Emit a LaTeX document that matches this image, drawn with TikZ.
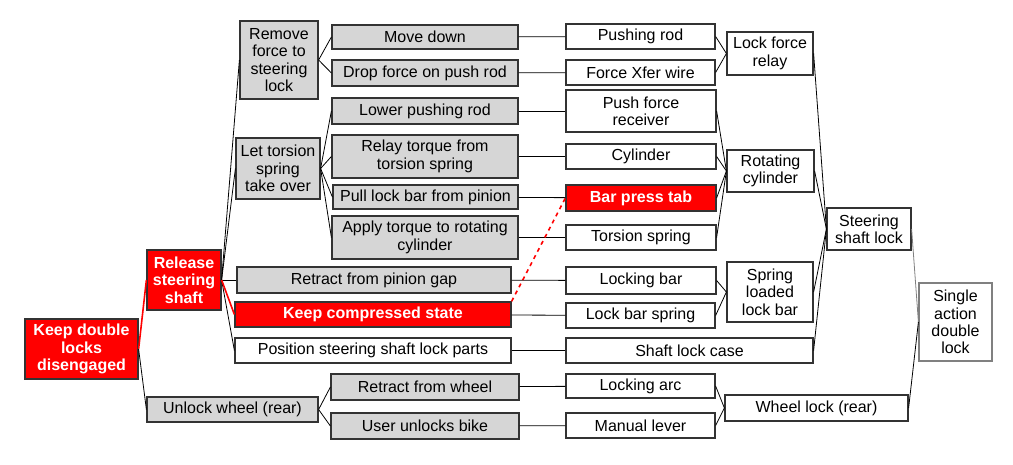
\documentclass[tikz,border=0pt]{standalone}
\usepackage{fontspec}
\setmainfont{Liberation Sans}
\begin{document}
\newcommand{\bx}[7]{%
  \pgfmathsetmacro{\mw}{(#4-#2)*0.75}\pgfmathsetmacro{\mh}{(#5-#3)*0.75}%
  \pgfmathsetmacro{\cx}{(#2+#4)/2}\pgfmathsetmacro{\cy}{(#3+#5)/2}%
  \node[#6, minimum width=\mw pt, minimum height=\mh pt] (#1) at (\cx,\cy) {#7};}
\begin{tikzpicture}[x=0.75pt,y=-0.75pt,
  base/.style={draw=black!80, line width=0.9pt, inner sep=0pt, align=center, font=\fontsize{12}{13}\selectfont},
  g/.style={base, fill=black!16},
  w/.style={base, fill=white},
  r/.style={base, fill=red, text=white, font=\fontsize{12}{13}\selectfont\bfseries},
  sw/.style={base, fill=white, draw=black!50},
  ln/.style={line width=0.6pt, black},
  rl/.style={line width=1.2pt, red},
  gl/.style={line width=0.6pt, black!50}]
\useasboundingbox (0,0) rectangle (1013,464);
\bx{K}{25}{319}{138}{379}{r}{Keep double\\locks\\disengaged}
\bx{R}{147}{250}{221}{310}{r}{Release\\steering\\shaft}
\bx{U}{147}{397}{318}{422}{g}{Unlock wheel (rear)}
\bx{RF}{240}{21}{318}{99}{g}{Remove\\force to\\steering\\lock}
\bx{LT}{236}{138}{320}{199}{g}{Let torsion\\spring\\take over}
\bx{MD}{332}{25}{518}{49}{g}{Move down}
\bx{DF}{332}{60}{518}{86}{g}{Drop force on push rod}
\bx{LP}{332}{98}{518}{124}{g}{Lower pushing rod}
\bx{RT}{332}{135}{518}{178}{g}{Relay torque from\\torsion spring}
\bx{PL}{333}{185}{518}{209}{g}{Pull lock bar from pinion}
\bx{AT}{332}{216}{518}{259}{g}{Apply torque to rotating\\cylinder}
\bx{RP}{237}{267}{511}{293}{g}{Retract from pinion gap}
\bx{KC}{235}{302}{511}{327}{r}{Keep compressed state}
\bx{PS}{235}{338}{511}{363}{w}{Position steering shaft lock parts}
\bx{RW}{331}{374}{519}{400}{g}{Retract from wheel}
\bx{UU}{331}{413}{519}{439}{g}{User unlocks bike}
\bx{PR}{566}{24}{715}{49}{w}{Pushing rod}
\bx{FX}{566}{60}{715}{85}{w}{Force Xfer wire}
\bx{PF}{566}{90}{716}{132}{w}{Push force\\receiver}
\bx{CY}{566}{144}{716}{169}{w}{Cylinder}
\bx{BP}{566}{185}{716}{211}{r}{Bar press tab}
\bx{TS}{566}{225}{716}{250}{w}{Torsion spring}
\bx{LB}{566}{267}{716}{294}{w}{Locking bar}
\bx{LS}{566}{303}{715}{328}{w}{Lock bar spring}
\bx{SC}{566}{338}{813}{363}{w}{Shaft lock case}
\bx{LA}{566}{374}{715}{398}{w}{Locking arc}
\bx{ML}{566}{413}{715}{438}{w}{Manual lever}
\bx{LF}{727}{32}{813}{75}{w}{Lock force\\relay}
\bx{RC}{727}{150}{814}{192}{w}{Rotating\\cylinder}
\bx{SL}{727}{262}{813}{322}{w}{Spring\\loaded\\lock bar}
\bx{SS}{827}{208}{911}{250}{w}{Steering\\shaft lock}
\bx{WL}{725}{395}{908}{421}{w}{Wheel lock (rear)}
\bx{SA}{919}{283}{992}{361}{sw}{Single\\action\\double\\lock}
% left tree
\draw[rl] (K.east) -- (R.west);
\draw[ln] (K.east) -- (U.west);
\foreach \c in {RF,LT,RP,PS} \draw[ln] (R.east) -- (\c.west);
\draw[rl] (R.east) -- (KC.west);
\foreach \c in {MD,DF} \draw[ln] (RF.east) -- (\c.west);
\foreach \c in {LP,RT,PL,AT} \draw[ln] (LT.east) -- (\c.west);
\foreach \c in {RW,UU} \draw[ln] (U.east) -- (\c.west);
% functions to components
\draw[ln] (MD) -- (PR); \draw[ln] (DF) -- (FX); \draw[ln] (LP) -- (PF);
\draw[ln] (RT) -- (CY); \draw[ln] (PL) -- (BP); \draw[ln] (AT) -- (TS);
\draw[ln] (RP) -- (LB); \draw[ln] (KC) -- (LS); \draw[ln] (PS) -- (SC);
\draw[ln] (RW) -- (LA); \draw[ln] (UU) -- (ML);
\draw[red, line width=1.2pt, dashed] (KC.north east) -- (BP.west);
% components to assemblies
\foreach \c in {PR,FX} \draw[ln] (\c.east) -- (LF.west);
\foreach \c in {PF,CY,BP,TS} \draw[ln] (\c.east) -- (RC.west);
\foreach \c in {LB,LS} \draw[ln] (\c.east) -- (SL.west);
\foreach \c in {LF,RC,SL,SC} \draw[ln] (\c.east) -- (SS.west);
\foreach \c in {LA,ML} \draw[ln] (\c.east) -- (WL.west);
\draw[gl] (SS.east) -- (SA.west);
\draw[ln] (WL.east) -- (SA.west);
\end{tikzpicture}
\end{document}
